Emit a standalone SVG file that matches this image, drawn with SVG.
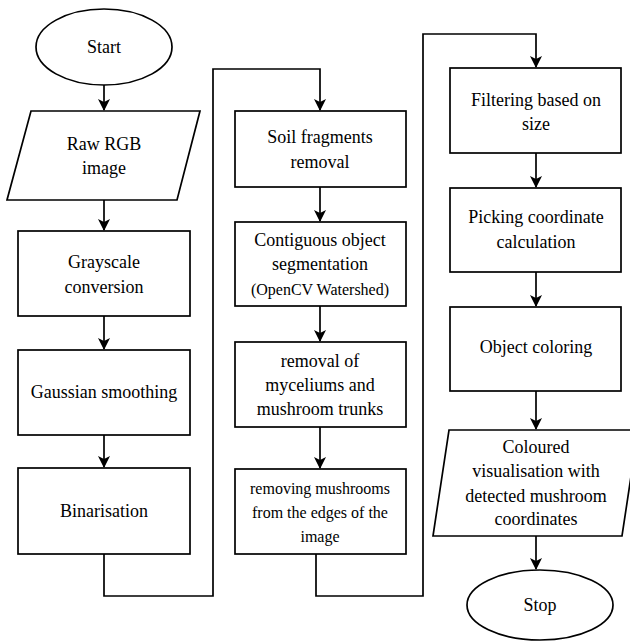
<svg xmlns="http://www.w3.org/2000/svg" width="630" height="643" viewBox="0 0 630 643">
<defs>
<marker id="arr" viewBox="0 0 12 12" refX="11" refY="6" markerWidth="12" markerHeight="12" markerUnits="userSpaceOnUse" orient="auto">
<path d="M0,0 L12,6 L0,12 L3,6 Z" fill="#000"/>
</marker>
<style>
.s{fill:#fff;stroke:#000;stroke-width:1.7}
.t{font-family:'Liberation Serif','Noto Serif','DejaVu Serif','Times New Roman',Times,'Nimbus Roman',Tinos,serif;font-size:18px;fill:#000;text-anchor:middle}
.m{font-size:16px}
.c{fill:none;stroke:#000;stroke-width:1.7}
</style>
</defs>
<rect width="630" height="643" fill="#fff"/>
<g id="connectors">
<path class="c" d="M104,85 V110" marker-end="url(#arr)"/>
<path class="c" d="M104,200 V230" marker-end="url(#arr)"/>
<path class="c" d="M104,316 V349" marker-end="url(#arr)"/>
<path class="c" d="M104,435 V467" marker-end="url(#arr)"/>
<path class="c" d="M104,554 V596 H213 V69 H320 V110" marker-end="url(#arr)"/>
<path class="c" d="M320,187 V221" marker-end="url(#arr)"/>
<path class="c" d="M320,306 V341" marker-end="url(#arr)"/>
<path class="c" d="M320,427 V468" marker-end="url(#arr)"/>
<path class="c" d="M316,554 V596 H423 V34 H536 V67" marker-end="url(#arr)"/>
<path class="c" d="M536,153 V187" marker-end="url(#arr)"/>
<path class="c" d="M536,272 V306" marker-end="url(#arr)"/>
<path class="c" d="M536,391 V429" marker-end="url(#arr)"/>
<path class="c" d="M536,536 V569" marker-end="url(#arr)"/>
</g>
<g id="start">
<ellipse class="s" cx="104" cy="47" rx="68" ry="38"/>
<text class="t" x="104" y="53">Start</text>
</g>
<g id="raw">
<polygon class="s" points="31,111 200,111 177,200 7,200"/>
<text class="t" x="104" y="150">Raw RGB</text>
<text class="t" x="104" y="174">image</text>
</g>
<g id="gray">
<rect class="s" x="18" y="231" width="172" height="85"/>
<text class="t" x="104" y="268">Grayscale</text>
<text class="t" x="104" y="293">conversion</text>
</g>
<g id="gauss">
<rect class="s" x="18" y="350" width="172" height="85"/>
<text class="t" x="104" y="398">Gaussian smoothing</text>
</g>
<g id="bin">
<rect class="s" x="18" y="468" width="172" height="86"/>
<text class="t" x="104" y="517">Binarisation</text>
</g>
<g id="soil">
<rect class="s" x="235" y="111" width="171" height="76"/>
<text class="t" x="320" y="143">Soil fragments</text>
<text class="t" x="320" y="168">removal</text>
</g>
<g id="contig">
<rect class="s" x="235" y="222" width="171" height="84"/>
<text class="t" x="320" y="246">Contiguous object</text>
<text class="t" x="320" y="270">segmentation</text>
<text class="t m" x="320" y="295">(OpenCV Watershed)</text>
</g>
<g id="mycel">
<rect class="s" x="235" y="342" width="171" height="85"/>
<text class="t" x="320" y="367">removal of</text>
<text class="t" x="320" y="391">myceliums and</text>
<text class="t" x="320" y="415">mushroom trunks</text>
</g>
<g id="edges">
<rect class="s" x="235" y="469" width="171" height="85"/>
<text class="t m" x="320" y="494">removing mushrooms</text>
<text class="t m" x="320" y="518">from the edges of the</text>
<text class="t m" x="320" y="542">image</text>
</g>
<g id="filter">
<rect class="s" x="450" y="68" width="171" height="85"/>
<text class="t" x="536" y="106">Filtering based on</text>
<text class="t" x="536" y="130">size</text>
</g>
<g id="pick">
<rect class="s" x="450" y="188" width="171" height="84"/>
<text class="t" x="536" y="223">Picking coordinate</text>
<text class="t" x="536" y="248">calculation</text>
</g>
<g id="color">
<rect class="s" x="450" y="307" width="171" height="84"/>
<text class="t" x="536" y="353">Object coloring</text>
</g>
<g id="out">
<polygon class="s" points="449,430 638,430 622,536 433,536"/>
<text class="t" x="536" y="453">Coloured</text>
<text class="t" x="536" y="477">visualisation with</text>
<text class="t" x="536" y="502">detected mushroom</text>
<text class="t" x="536" y="525">coordinates</text>
</g>
<g id="stop">
<ellipse class="s" cx="540" cy="605" rx="73" ry="35"/>
<text class="t" x="540" y="611">Stop</text>
</g>
</svg>
